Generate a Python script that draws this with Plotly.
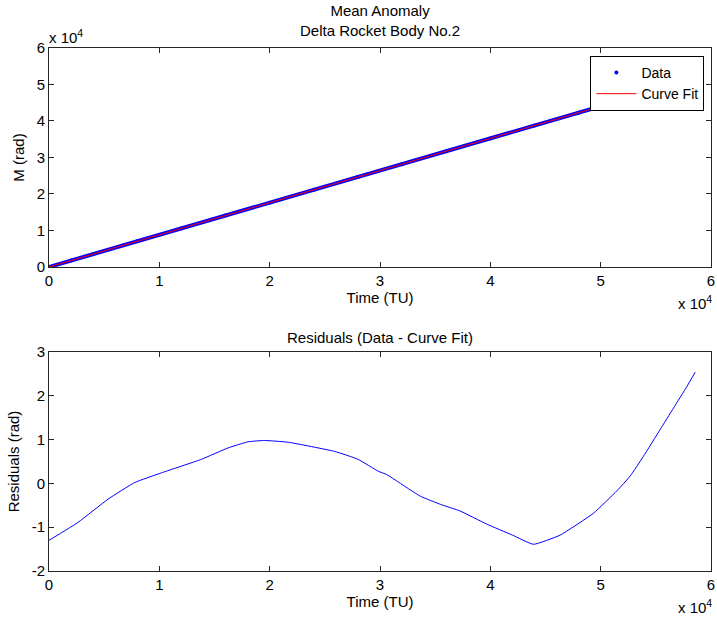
import plotly.graph_objects as go

# ---- data ----
t_data = [0, 2000, 4000, 8000, 12000, 16000, 20000, 24000, 28000, 32000,
          36000, 40000, 44000, 48000, 52000, 56000, 58570]
m_data = [0, 1761, 3522, 7045, 10567, 14090, 17612, 21135, 24657, 28180,
          31702, 35225, 38747, 42270, 45792, 49315, 51577]
m_fit = [1, 1762, 3522, 7045, 10567, 14089, 17611, 21134, 24657, 28180,
         31702, 35226, 38748, 42270, 45792, 49314, 51574]

t_res = [0, 2630, 5350, 7770, 10180, 13810, 16230, 18040, 19550, 21670, 25900,
         28010, 29830, 30620, 33640, 35500, 37260, 39680, 42000, 43910, 46330,
         49350, 51470, 52680, 53880, 55390, 56600, 57810, 58570]
res = [-1.30, -0.89, -0.36, 0.02, 0.24, 0.55, 0.81, 0.95, 0.98, 0.94, 0.73,
       0.55, 0.28, 0.20, -0.29, -0.48, -0.63, -0.93, -1.18, -1.39, -1.18,
       -0.68, -0.17, 0.17, 0.62, 1.23, 1.72, 2.21, 2.54]

x_ticks = [0, 10000, 20000, 30000, 40000, 50000, 60000]
x_labels = ["0", "1", "2", "3", "4", "5", "6"]
y1_ticks = [0, 10000, 20000, 30000, 40000, 50000, 60000]
y1_labels = ["0", "1", "2", "3", "4", "5", "6"]
y2_ticks = [-2, -1, 0, 1, 2, 3]
y2_labels = ["-2", "-1", "0", "1", "2", "3"]

FONT = "Liberation Sans, Arial, sans-serif"
FS = 15
AX = "#262626"

fig = go.Figure()
fig.add_trace(go.Scatter(x=t_data, y=m_data, mode="lines+markers",
                         line=dict(color="#0000ff", width=4),
                         marker=dict(color="#0000ff", size=4),
                         showlegend=False, xaxis="x", yaxis="y"))
fig.add_trace(go.Scatter(x=[None], y=[None], mode="markers", name="Data",
                         marker=dict(color="#0000ff", size=4),
                         xaxis="x", yaxis="y"))
fig.add_trace(go.Scatter(x=t_data, y=m_fit, mode="lines", name="Curve Fit",
                         line=dict(color="#ff0000", width=1),
                         xaxis="x", yaxis="y"))
fig.add_trace(go.Scatter(x=t_res, y=res, mode="lines", showlegend=False,
                         line=dict(color="#0000ff", width=1, shape="spline", smoothing=0.4),
                         xaxis="x2", yaxis="y2"))

axcommon = dict(showline=True, linecolor=AX, linewidth=1, mirror="ticks",
                ticks="inside", ticklen=5, tickcolor=AX, showgrid=False,
                zeroline=False, automargin=False, ticklabeloverflow="allow",
                tickfont=dict(family=FONT, size=FS, color="black"))

fig.update_layout(
    width=717, height=623,
    margin=dict(l=49, r=6, t=48, b=52, autoexpand=False),
    paper_bgcolor="white", plot_bgcolor="white",
    font=dict(family=FONT, size=FS, color="black"),
    xaxis=dict(domain=[0, 1], range=[0, 60000], tickvals=x_ticks, ticktext=x_labels,
               anchor="y", title=dict(text="Time (TU)", standoff=2,
                                      font=dict(size=FS)), **axcommon),
    yaxis=dict(domain=[0.5813, 1], range=[0, 60000], tickvals=y1_ticks, ticktext=y1_labels,
               anchor="x", title=dict(text="M (rad)", standoff=8,
                                      font=dict(size=FS)), **axcommon),
    xaxis2=dict(domain=[0, 1], range=[0, 60000], tickvals=x_ticks, ticktext=x_labels,
                anchor="y2", title=dict(text="Time (TU)", standoff=2,
                                        font=dict(size=FS)), **axcommon),
    yaxis2=dict(domain=[0, 0.4187], range=[-2, 3], tickvals=y2_ticks, ticktext=y2_labels,
                anchor="x2", title=dict(text="Residuals (rad)", standoff=8,
                                        font=dict(size=FS)), **axcommon),
    legend=dict(x=0.99, y=0.985, xanchor="right", yanchor="top",
                bgcolor="white", bordercolor="black", borderwidth=1,
                font=dict(family=FONT, size=14), tracegroupgap=0,
                itemwidth=40),
    showlegend=True,
)

ann = [
    dict(text="Mean Anomaly<br>Delta Rocket Body No.2", x=0.5, y=1, xref="paper", yref="paper",
         xanchor="center", yanchor="bottom", yshift=7, showarrow=False,
         font=dict(family=FONT, size=FS)),
    dict(text="Residuals (Data - Curve Fit)", x=0.5, y=0.4187, xref="paper", yref="paper",
         xanchor="center", yanchor="bottom", yshift=4, showarrow=False,
         font=dict(family=FONT, size=FS)),
    dict(text="x 10<sup>4</sup>", x=0, y=1, xref="paper", yref="paper",
         xanchor="left", yanchor="bottom", xshift=-2, yshift=0, showarrow=False,
         font=dict(family=FONT, size=FS)),
    dict(text="x 10<sup>4</sup>", x=1, y=0.5813, xref="paper", yref="paper",
         xanchor="right", yanchor="top", xshift=3, yshift=-24, showarrow=False,
         font=dict(family=FONT, size=FS)),
    dict(text="x 10<sup>4</sup>", x=1, y=0, xref="paper", yref="paper",
         xanchor="right", yanchor="top", xshift=3, yshift=-24, showarrow=False,
         font=dict(family=FONT, size=FS)),
]
fig.update_layout(annotations=ann)

fig.write_html("out.html", config={"displayModeBar": False},
               post_script="document.body.style.margin='0';document.body.style.padding='0';")
